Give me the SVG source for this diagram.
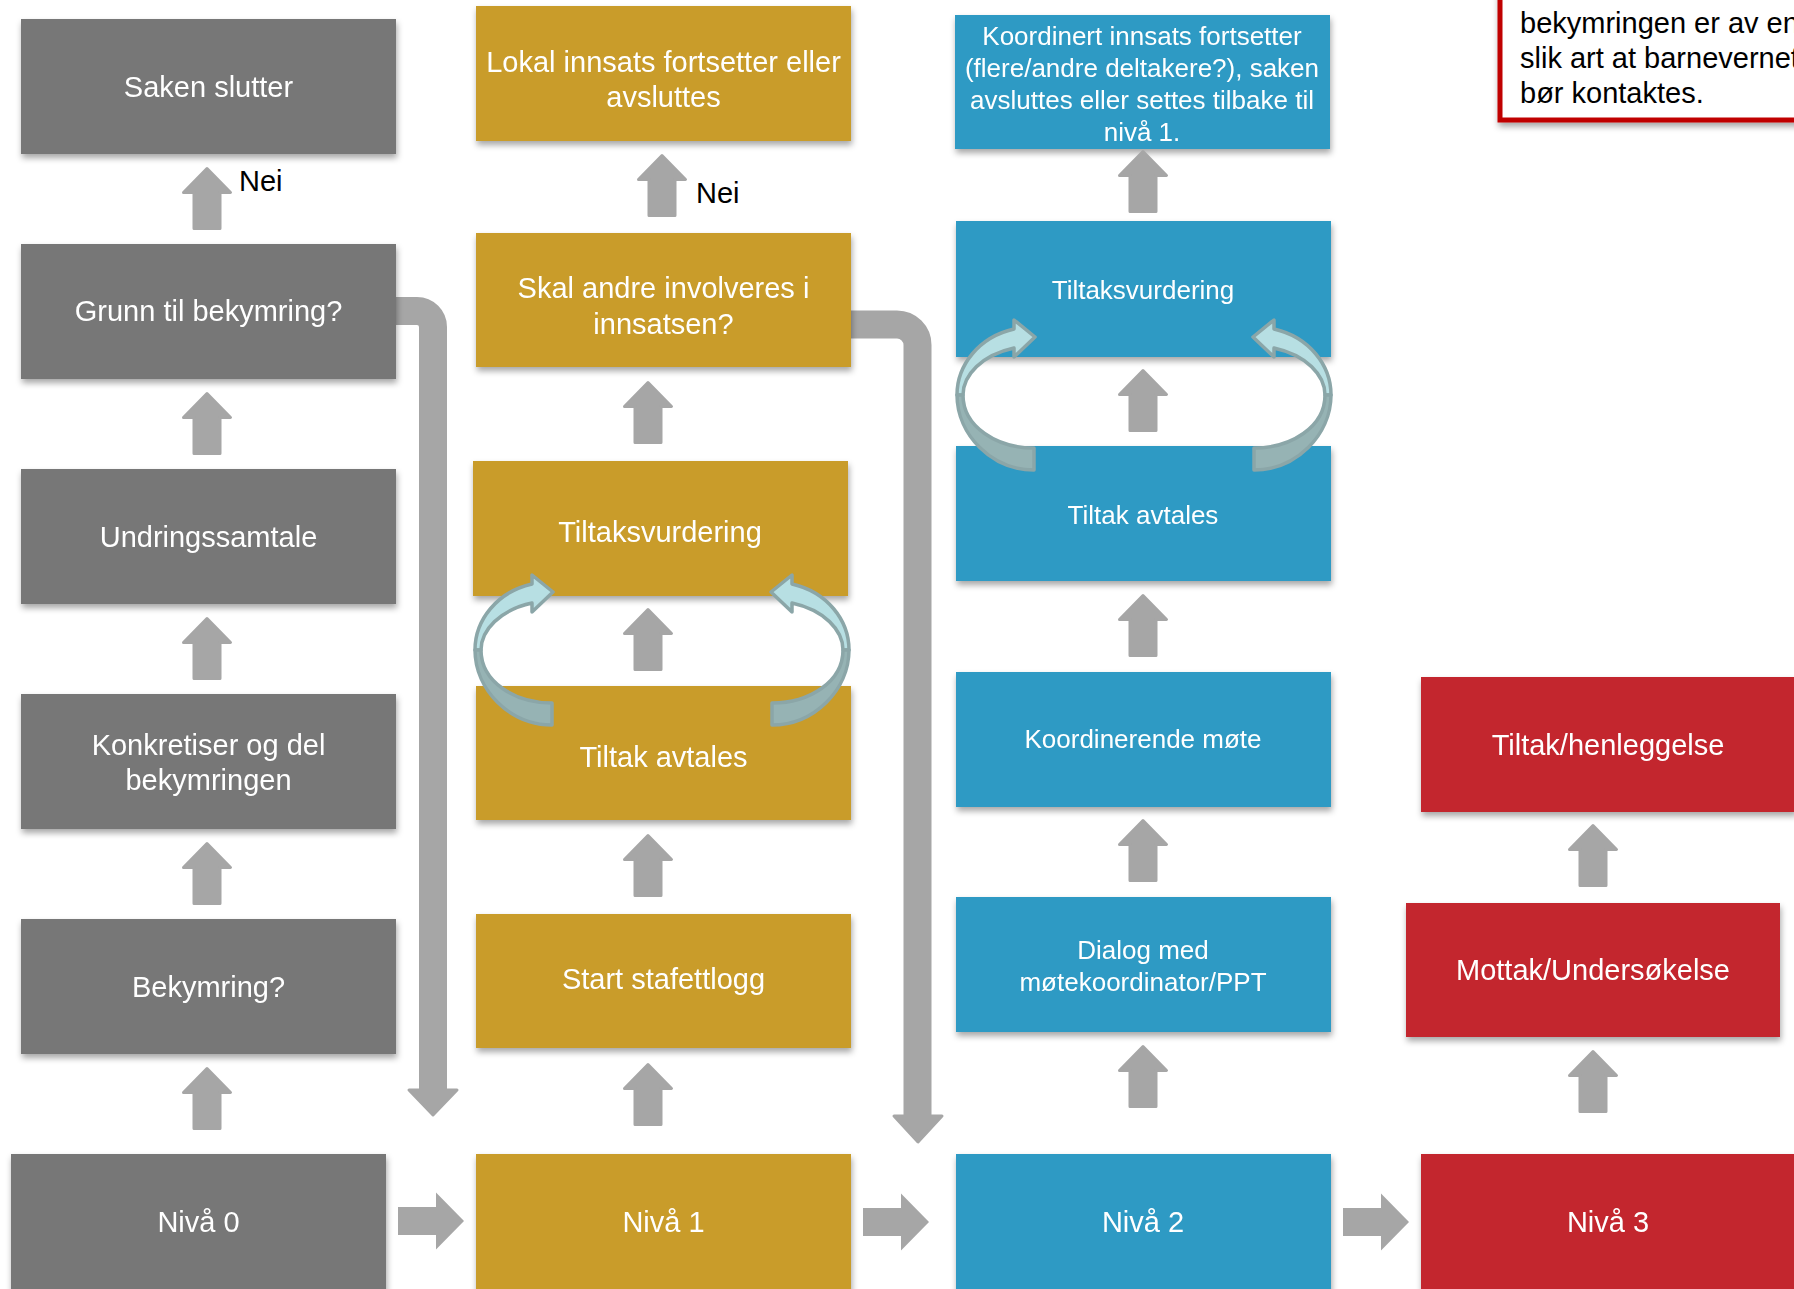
<svg xmlns="http://www.w3.org/2000/svg" xmlns:xlink="http://www.w3.org/1999/xlink" width="1794" height="1289" viewBox="0 0 1794 1289">
<style>
.t{font-family:"Liberation Sans",Arial,sans-serif;fill:#fff;text-anchor:middle;font-size:29px}
.s{font-size:26px}
.k{font-family:"Liberation Sans",Arial,sans-serif;fill:#000;font-size:29px}
.g{fill:#777777}
.y{fill:#C99C29}
.b{fill:#2E9AC4}
.r{fill:#C3252D}
.box{filter:url(#sh)}
.arw{fill:#A6A6A6;stroke:#A6A6A6;stroke-width:3;stroke-linejoin:round}
.bend{fill:none;stroke:#A6A6A6;stroke-width:28}
.cl{fill:#B7DFE3;stroke:#8BA6A8;stroke-width:3.5;stroke-linejoin:round}
.cd{fill:#96B3B4;stroke:#8BA6A8;stroke-width:3.5;stroke-linejoin:round}
</style>
<defs>
<filter id="sh" x="-5%" y="-10%" width="115%" height="130%">
<feDropShadow dx="1" dy="4" stdDeviation="3" flood-color="#000" flood-opacity="0.35"/>
</filter>
<path id="up" class="arw" d="M0 1.5 L23.5 25.5 L13 25.5 L13 61.5 L-13 61.5 L-13 25.5 L-23.5 25.5 Z"/>
<path id="right" fill="#A6A6A6" d="M0 -14 L38 -14 L38 -28.5 L66 0 L38 28.5 L38 14 L0 14 Z"/>
<g id="cycle">
<path class="cl" d="M532 584 C497 592 475 620 475 650 L481 650 C481 630 500 610 532 603 L532 612 L553 592 L532 575 Z"/>
<path class="cd" d="M475 650 C475 690 510 725 552 725 L552 703 C515 703 481 682 481 650 Z"/>
</g>
</defs>
<rect width="1794" height="1289" fill="#fff"/>

<g id="connectors-back">
<path class="bend" d="M380 311 H417 A16 16 0 0 1 433 327 V1092"/>
<polygon class="arw" points="409,1090 457,1090 433,1115"/>
<path class="bend" d="M840 324.5 H897 A20.5 20.5 0 0 1 917.5 345 V1118"/>
<polygon class="arw" points="894,1116 942,1116 918,1142"/>
</g>

<g id="n-saken" class="box"><rect class="g" x="21" y="19" width="375" height="135"/><text class="t" x="208.5" y="97">Saken slutter</text></g>
<g id="n-grunn" class="box"><rect class="g" x="21" y="244" width="375" height="135"/><text class="t" x="208.5" y="321">Grunn til bekymring?</text></g>
<g id="n-undring" class="box"><rect class="g" x="21" y="469" width="375" height="135"/><text class="t" x="208.5" y="547">Undringssamtale</text></g>
<g id="n-konkretiser" class="box"><rect class="g" x="21" y="694" width="375" height="135"/><text class="t" x="208.5" y="755">Konkretiser og del</text><text class="t" x="208.5" y="790">bekymringen</text></g>
<g id="n-bekymring" class="box"><rect class="g" x="21" y="919" width="375" height="135"/><text class="t" x="208.5" y="997">Bekymring?</text></g>
<g id="n-niva0" class="box"><rect class="g" x="11" y="1154" width="375" height="140"/><text class="t" x="198.5" y="1232">Nivå 0</text></g>

<g id="n-lokal" class="box"><rect class="y" x="476" y="6" width="375" height="135"/><text class="t" x="663.5" y="72">Lokal innsats fortsetter eller</text><text class="t" x="663.5" y="107">avsluttes</text></g>
<g id="n-skal" class="box"><rect class="y" x="476" y="233" width="375" height="134"/><text class="t" x="663.5" y="298">Skal andre involveres i</text><text class="t" x="663.5" y="334">innsatsen?</text></g>
<g id="n-tiltaksv1" class="box"><rect class="y" x="473" y="461" width="375" height="135"/><text class="t" x="660" y="542">Tiltaksvurdering</text></g>
<g id="n-tiltakav1" class="box"><rect class="y" x="476" y="686" width="375" height="134"/><text class="t" x="663.5" y="767">Tiltak avtales</text></g>
<g id="n-start" class="box"><rect class="y" x="476" y="914" width="375" height="134"/><text class="t" x="663.5" y="989">Start stafettlogg</text></g>
<g id="n-niva1" class="box"><rect class="y" x="476" y="1154" width="375" height="140"/><text class="t" x="663.5" y="1232">Nivå 1</text></g>

<g id="n-koordinert" class="box"><rect class="b" x="955" y="15" width="375" height="134"/><text class="t s" x="1142" y="45">Koordinert innsats fortsetter</text><text class="t s" x="1142" y="77">(flere/andre deltakere?), saken</text><text class="t s" x="1142" y="109">avsluttes eller settes tilbake til</text><text class="t s" x="1142" y="141">nivå 1.</text></g>
<g id="n-tiltaksv2" class="box"><rect class="b" x="956" y="221" width="375" height="136"/><text class="t s" x="1143" y="299">Tiltaksvurdering</text></g>
<g id="n-tiltakav2" class="box"><rect class="b" x="956" y="446" width="375" height="135"/><text class="t s" x="1143" y="524">Tiltak avtales</text></g>
<g id="n-koordmote" class="box"><rect class="b" x="956" y="672" width="375" height="135"/><text class="t s" x="1143" y="748">Koordinerende møte</text></g>
<g id="n-dialog" class="box"><rect class="b" x="956" y="897" width="375" height="135"/><text class="t s" x="1143" y="959">Dialog med</text><text class="t s" x="1143" y="991">møtekoordinator/PPT</text></g>
<g id="n-niva2" class="box"><rect class="b" x="956" y="1154" width="375" height="140"/><text class="t" x="1143" y="1232">Nivå 2</text></g>

<g id="n-tiltakhenl" class="box"><rect class="r" x="1421" y="677" width="375" height="135"/><text class="t" x="1608" y="755">Tiltak/henleggelse</text></g>
<g id="n-mottak" class="box"><rect class="r" x="1406" y="903" width="374" height="134"/><text class="t" x="1593" y="980">Mottak/Undersøkelse</text></g>
<g id="n-niva3" class="box"><rect class="r" x="1421" y="1154" width="375" height="140"/><text class="t" x="1608" y="1232">Nivå 3</text></g>

<g id="n-note">
<rect x="1500" y="-10" width="310" height="130" fill="#fff" stroke="#C00000" stroke-width="5" filter="url(#sh)"/>
<text class="k" x="1520" y="33">bekymringen er av en</text>
<text class="k" x="1520" y="68">slik art at barnevernet</text>
<text class="k" x="1520" y="103">bør kontaktes.</text>
</g>

<g id="connectors">
<use xlink:href="#up" x="207" y="167"/>
<use xlink:href="#up" x="207" y="392"/>
<use xlink:href="#up" x="207" y="617"/>
<use xlink:href="#up" x="207" y="842"/>
<use xlink:href="#up" x="207" y="1067"/>
<use xlink:href="#up" x="662" y="154"/>
<use xlink:href="#up" x="648" y="381"/>
<use xlink:href="#up" x="648" y="608"/>
<use xlink:href="#up" x="648" y="834"/>
<use xlink:href="#up" x="648" y="1063"/>
<use xlink:href="#up" x="1143" y="150"/>
<use xlink:href="#up" x="1143" y="369"/>
<use xlink:href="#up" x="1143" y="594"/>
<use xlink:href="#up" x="1143" y="819"/>
<use xlink:href="#up" x="1143" y="1045"/>
<use xlink:href="#up" x="1593" y="824"/>
<use xlink:href="#up" x="1593" y="1050"/>
<use xlink:href="#right" x="398" y="1221"/>
<use xlink:href="#right" x="863" y="1222"/>
<use xlink:href="#right" x="1343" y="1222"/>
<use xlink:href="#cycle"/>
<use xlink:href="#cycle" transform="translate(1324,0) scale(-1,1)"/>
<use xlink:href="#cycle" transform="translate(482,-255)"/>
<use xlink:href="#cycle" transform="translate(1806,-255) scale(-1,1)"/>
<text class="k" x="239" y="191">Nei</text>
<text class="k" x="696" y="203">Nei</text>
</g>
</svg>
